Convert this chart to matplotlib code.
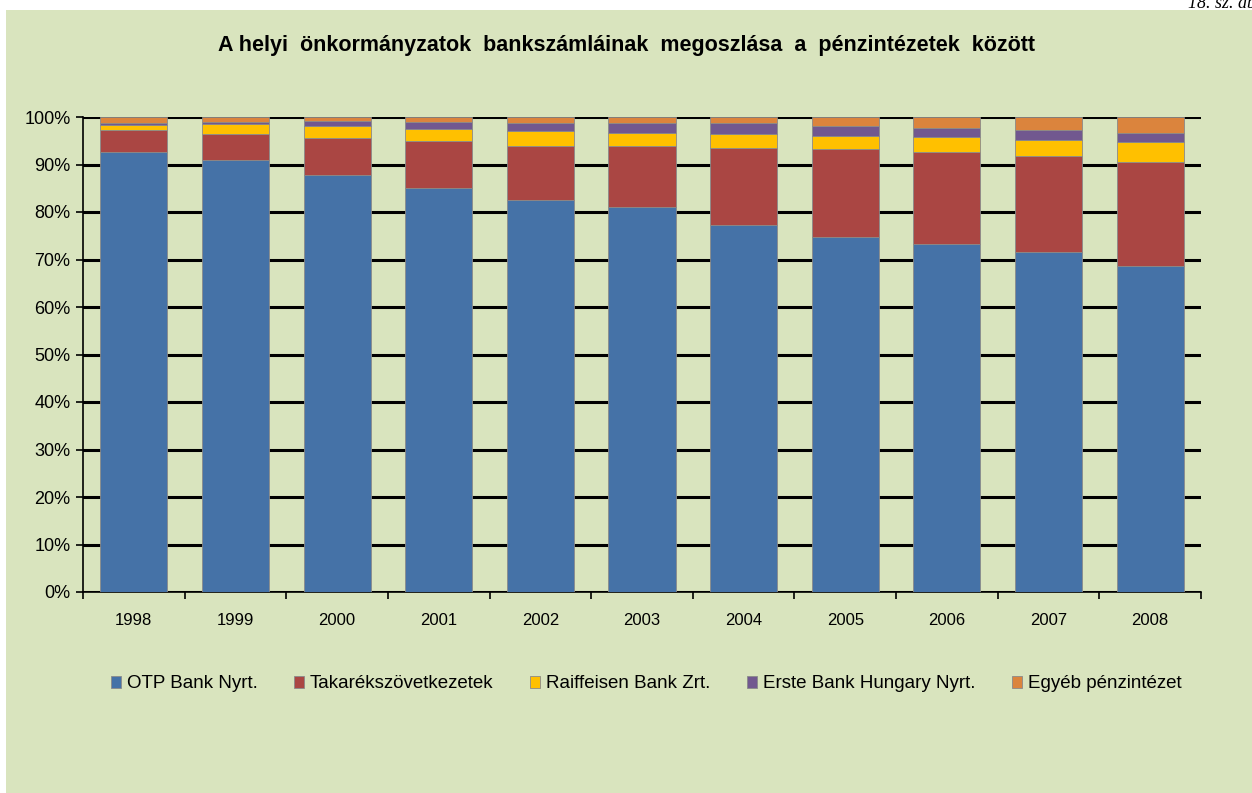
import matplotlib
matplotlib.use("Agg")
import matplotlib.pyplot as plt
from matplotlib.patches import Rectangle
import numpy as np

plt.rcParams['font.family'] = ['Liberation Sans', 'DejaVu Sans']

years = ['1998', '1999', '2000', '2001', '2002', '2003', '2004', '2005', '2006', '2007', '2008']
series_names = ['OTP Bank Nyrt.', 'Takarékszövetkezetek', 'Raiffeisen Bank Zrt.',
                'Erste Bank Hungary Nyrt.', 'Egyéb pénzintézet']
otp = [92.6, 90.9, 87.7, 85.1, 82.5, 81.1, 77.3, 74.7, 73.2, 71.5, 68.6]
tak = [4.7, 5.5, 7.8, 9.8, 11.5, 12.7, 16.2, 18.5, 19.4, 20.2, 21.9]
raif = [1.0, 2.1, 2.6, 2.6, 3.0, 2.9, 2.9, 2.9, 3.2, 3.5, 4.2]
erste = [0.5, 0.5, 1.1, 1.5, 1.7, 2.0, 2.3, 2.0, 1.9, 2.1, 2.0]
egyeb = [1.2, 1.0, 0.8, 1.0, 1.3, 1.3, 1.3, 1.9, 2.3, 2.7, 3.3]
colors = ['#4572A7', '#AA4643', '#FFC000', '#71588F', '#DB843D']

W, H = 1252, 793
fig = plt.figure(figsize=(W / 100, H / 100), dpi=100)
fig.patch.set_facecolor('white')
bg = '#D9E4BE'
fig.add_artist(Rectangle((6 / W, 0), 1 - 6 / W, 1 - 10 / H, transform=fig.transFigure,
                         facecolor=bg, edgecolor='none', zorder=-10))

ax = fig.add_axes([83 / W, (H - 592) / H, (1201 - 83) / W, (592 - 117) / H])
ax.set_facecolor(bg)

data = [otp, tak, raif, erste, egyeb]
x = np.arange(len(years))
bottom = np.zeros(len(years))
handles = []
for name, vals, c in zip(series_names, data, colors):
    v = np.array(vals)
    h = ax.bar(x, v, bottom=bottom, width=0.66, color=c, edgecolor='#8a8a8a',
               linewidth=0.6, label=name, zorder=3)
    handles.append(h)
    bottom += v

ax.set_xlim(-0.5, len(years) - 0.5)
ax.set_ylim(0, 100)
ax.set_yticks(np.arange(0, 101, 10))
ax.set_yticklabels([f'{t}%' for t in range(0, 101, 10)], fontsize=13)
ax.set_xticks(x)
ax.set_xticklabels(years, fontsize=12)
ax.set_xticks(np.arange(-0.5, len(years)), minor=True)
ax.tick_params(axis='x', which='major', length=0, pad=15)
ax.tick_params(axis='x', which='minor', length=5, width=1.2, direction='out', color='black')
ax.tick_params(axis='y', length=5, width=1.2, direction='out', color='black', pad=4)

ax.yaxis.grid(True, color='black', linewidth=2.2, zorder=1)
ax.set_axisbelow(True)
for s in ['top', 'right']:
    ax.spines[s].set_visible(False)
ax.spines['left'].set_linewidth(1.2)
ax.spines['bottom'].set_linewidth(1.2)

fig.text(0.5, (H - 46) / H, 'A helyi  önkormányzatok  bankszámláinak  megoszlása  a  pénzintézetek  között',
         ha='center', va='center', fontsize=15.5, fontweight='bold')
fig.text(1188 / W, 1 - 8 / H, '18. sz. ábra', ha='left', va='baseline', fontsize=13,
         style='italic', family='Liberation Serif')

leg = fig.legend(handles=handles, labels=series_names, loc='center',
                 bbox_to_anchor=(0.516, (H - 684) / H), ncol=5, frameon=False,
                 fontsize=13.5, handlelength=0.55, handleheight=0.55,
                 handletextpad=0.3, columnspacing=1.95)

fig.savefig('out.png', dpi=100, facecolor=fig.get_facecolor())
